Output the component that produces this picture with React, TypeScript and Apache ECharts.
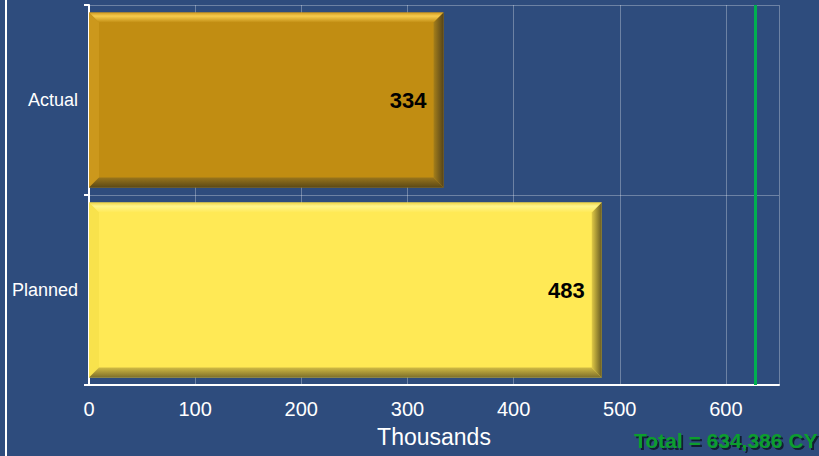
import React, { useEffect, useRef } from "react";
import * as echarts from "echarts";

const categories = ["Actual", "Planned"];
const values = [334, 483];
const axisMin = 0;
const axisMax = 650;
const axisInterval = 100;
const totalLine = 628;
const axisName = "Thousands";
const totalText = "Total = 634,386 CY";

const palettes = [
  {
    face: "#C18D12",
    topEdge: "#d29c22",
    topHi: "#f6cb4e",
    left: "#cc981c",
    bottomIn: "#9a761c",
    bottomOut: "#5c4916",
    rightIn: "#a57f1a",
    rightOut: "#55441a",
  },
  {
    face: "#FFE955",
    topEdge: "#efd448",
    topHi: "#fff58c",
    left: "#f8e24c",
    bottomIn: "#d2bc44",
    bottomOut: "#7e6f2a",
    rightIn: "#e2cb46",
    rightOut: "#665a22",
  },
];

const FONT = "Arial, 'Liberation Sans', sans-serif";

export default function App() {
  const ref = useRef<HTMLDivElement>(null);

  useEffect(() => {
    document.body.style.margin = "0";
    if (!ref.current) return;
    const chart = echarts.init(ref.current, undefined, { renderer: "svg" });

    const renderItem = (params: any, api: any) => {
      const val = api.value(0);
      const cat = api.value(1);
      const p0 = api.coord([0, cat]);
      const p1 = api.coord([val, cat]);
      const h = api.size([0, 1])[1] * 0.92;
      const x0 = p0[0];
      const x1 = p1[0];
      const yT = p0[1] - h / 2;
      const yB = p0[1] + h / 2;
      const b = 10;
      const pal = palettes[params.dataIndex % palettes.length];
      return {
        type: "group",
        children: [
          {
            type: "rect",
            shape: { x: x0, y: yT, width: x1 - x0, height: h },
            style: { fill: pal.face },
          },
          {
            type: "polygon",
            shape: { points: [[x0, yT], [x1, yT], [x1 - b, yT + b], [x0 + b, yT + b]] },
            style: {
              fill: new echarts.graphic.LinearGradient(0, 0, 0, 1, [
                { offset: 0, color: pal.topEdge },
                { offset: 0.35, color: pal.topHi },
                { offset: 1, color: pal.face },
              ]),
            },
          },
          {
            type: "polygon",
            shape: { points: [[x0, yT], [x0 + b, yT + b], [x0 + b, yB - b], [x0, yB]] },
            style: { fill: pal.left },
          },
          {
            type: "polygon",
            shape: { points: [[x0, yB], [x0 + b, yB - b], [x1 - b, yB - b], [x1, yB]] },
            style: {
              fill: new echarts.graphic.LinearGradient(0, 0, 0, 1, [
                { offset: 0, color: pal.bottomIn },
                { offset: 1, color: pal.bottomOut },
              ]),
            },
          },
          {
            type: "polygon",
            shape: { points: [[x1, yT], [x1, yB], [x1 - b, yB - b], [x1 - b, yT + b]] },
            style: {
              fill: new echarts.graphic.LinearGradient(0, 0, 1, 0, [
                { offset: 0, color: pal.rightIn },
                { offset: 1, color: pal.rightOut },
              ]),
            },
          },
          {
            type: "text",
            style: {
              x: x1 - 17,
              y: p0[1],
              text: String(val),
              fill: "#000",
              font: `bold 22px ${FONT}`,
              align: "right",
              verticalAlign: "middle",
            },
          },
        ],
      };
    };

    chart.setOption({
      animation: false,
      backgroundColor: "#2E4C7D",
      textStyle: { fontFamily: FONT },
      grid: { left: 89, right: 40, top: 5, bottom: 71, containLabel: false },
      xAxis: {
        type: "value",
        min: axisMin,
        max: axisMax,
        interval: axisInterval,
        name: axisName,
        nameLocation: "middle",
        nameGap: 40,
        nameTextStyle: { color: "#fff", fontSize: 23, fontFamily: FONT },
        axisLine: { show: true, lineStyle: { color: "#fff", width: 2 } },
        axisTick: { show: false },
        axisLabel: {
          color: "#fff",
          fontSize: 20,
          margin: 14,
          fontFamily: FONT,
          formatter: (v: number) => (v % axisInterval === 0 ? String(v) : ""),
        },
        splitLine: { show: true, lineStyle: { color: "rgba(255,255,255,0.3)", width: 1 } },
      },
      yAxis: {
        type: "category",
        data: categories,
        inverse: true,
        axisLine: { show: true, lineStyle: { color: "#fff", width: 2 } },
        axisTick: { show: true, length: 5, lineStyle: { color: "#fff", width: 2 } },
        axisLabel: { color: "#fff", fontSize: 18, margin: 11, fontFamily: FONT },
        splitLine: { show: true, lineStyle: { color: "rgba(255,255,255,0.3)", width: 1 } },
      },
      series: [
        {
          type: "custom",
          renderItem,
          encode: { x: 0, y: 1 },
          data: values.map((v, i) => [v, i]),
          markLine: {
            silent: true,
            symbol: ["none", "none"],
            label: { show: false },
            lineStyle: { color: "#00B050", width: 3, type: "solid" },
            data: [{ xAxis: totalLine }],
          },
        },
      ],
      graphic: [
        {
          type: "rect",
          left: 5,
          top: 0,
          shape: { width: 2, height: 456 },
          style: { fill: "#ffffff" },
        },
        {
          type: "text",
          left: 634,
          top: 430,
          style: {
            text: totalText,
            fill: "#0a9e2e",
            font: `bold 21px ${FONT}`,
            textShadowColor: "rgba(0,0,0,0.6)",
            textShadowOffsetX: 2,
            textShadowOffsetY: 2,
            textShadowBlur: 1,
          },
        },
      ],
    });

    return () => chart.dispose();
  }, []);

  return (
    <div
      ref={ref}
      style={{ position: "fixed", left: 0, top: 0, width: 819, height: 456 }}
    />
  );
}
